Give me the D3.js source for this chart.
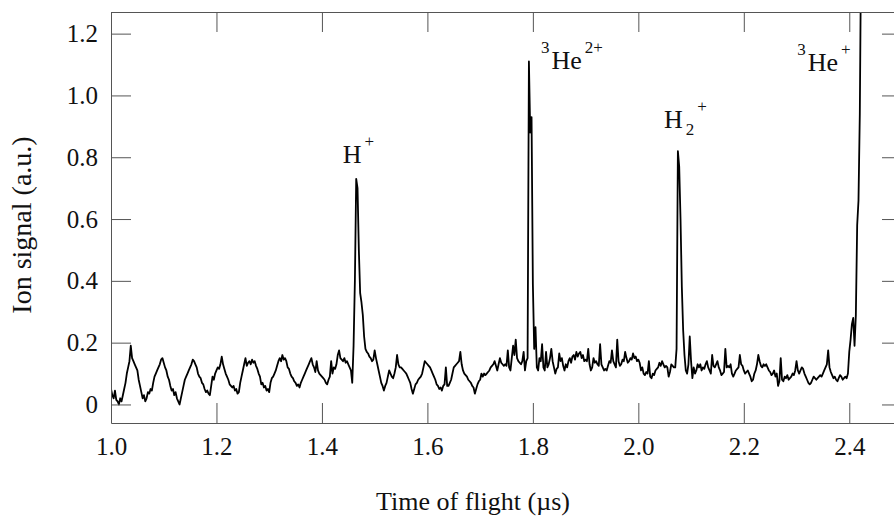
<!DOCTYPE html>
<html>
<head>
<meta charset="utf-8">
<script src="https://cdn.jsdelivr.net/npm/d3@7"></script>
<style>
  html, body { margin: 0; padding: 0; background: #fff; overflow: hidden; }
  svg { display: block; font-family: "Liberation Serif", "Times New Roman", serif; }
</style>
</head>
<body>
<svg id="chart" width="894" height="516"></svg>
<script>
// ---- data ---------------------------------------------------------------------
// ion signal, one sample every 2.5 ns starting at 1.000 us
const tofStart = 1.0;
const tofStep  = 0.0025;
const signal = [
  0.05, 0.03, 0.02, 0.045, 0.015, 0.01, 0.00, 0.02, 0.01, 0.03, 0.05, 0.07, 0.10, 0.12, 0.14, 0.19, 0.15, 0.14, 0.13, 0.12,
  0.11, 0.08, 0.06, 0.04, 0.02, 0.03, 0.01, 0.02, 0.04, 0.035, 0.05, 0.045, 0.07, 0.09, 0.10, 0.11, 0.12, 0.13, 0.145, 0.15,
  0.135, 0.12, 0.11, 0.09, 0.08, 0.06, 0.045, 0.05, 0.03, 0.04, 0.02, 0.01, 0.00, 0.02, 0.04, 0.06, 0.08, 0.09, 0.10, 0.11,
  0.12, 0.13, 0.145, 0.14, 0.13, 0.12, 0.10, 0.09, 0.085, 0.07, 0.065, 0.05, 0.04, 0.045, 0.035, 0.03, 0.06, 0.09, 0.08, 0.10,
  0.11, 0.12, 0.115, 0.13, 0.155, 0.13, 0.115, 0.10, 0.09, 0.08, 0.065, 0.06, 0.055, 0.06, 0.045, 0.05, 0.035, 0.04, 0.07, 0.09,
  0.11, 0.13, 0.15, 0.125, 0.135, 0.14, 0.13, 0.145, 0.135, 0.14, 0.125, 0.115, 0.10, 0.09, 0.065, 0.07, 0.055, 0.06, 0.045, 0.05,
  0.04, 0.07, 0.085, 0.09, 0.10, 0.11, 0.125, 0.14, 0.15, 0.14, 0.16, 0.145, 0.15, 0.14, 0.12, 0.115, 0.10, 0.09, 0.085, 0.075,
  0.07, 0.06, 0.065, 0.055, 0.07, 0.08, 0.09, 0.10, 0.11, 0.12, 0.13, 0.14, 0.15, 0.13, 0.12, 0.105, 0.14, 0.11, 0.10, 0.095,
  0.09, 0.085, 0.08, 0.07, 0.065, 0.08, 0.09, 0.14, 0.10, 0.12, 0.115, 0.13, 0.16, 0.175, 0.15, 0.145, 0.14, 0.15, 0.135, 0.14,
  0.13, 0.12, 0.11, 0.07, 0.19, 0.40, 0.73, 0.70, 0.50, 0.36, 0.33, 0.29, 0.22, 0.18, 0.17, 0.165, 0.155, 0.15, 0.14, 0.145,
  0.175, 0.15, 0.13, 0.11, 0.09, 0.07, 0.06, 0.045, 0.06, 0.07, 0.09, 0.11, 0.10, 0.09, 0.085, 0.10, 0.12, 0.16, 0.13, 0.12,
  0.12, 0.115, 0.11, 0.105, 0.10, 0.09, 0.08, 0.07, 0.05, 0.035, 0.05, 0.065, 0.07, 0.08, 0.085, 0.09, 0.10, 0.12, 0.14, 0.135,
  0.13, 0.125, 0.12, 0.11, 0.10, 0.09, 0.08, 0.065, 0.06, 0.05, 0.055, 0.045, 0.06, 0.065, 0.12, 0.06, 0.06, 0.07, 0.08, 0.10,
  0.12, 0.125, 0.13, 0.135, 0.14, 0.17, 0.13, 0.11, 0.10, 0.095, 0.09, 0.08, 0.075, 0.07, 0.06, 0.055, 0.035, 0.05, 0.065, 0.075,
  0.08, 0.10, 0.09, 0.10, 0.095, 0.10, 0.105, 0.11, 0.12, 0.125, 0.13, 0.14, 0.125, 0.11, 0.13, 0.15, 0.135, 0.13, 0.125, 0.13,
  0.125, 0.175, 0.12, 0.11, 0.15, 0.19, 0.16, 0.21, 0.15, 0.14, 0.135, 0.13, 0.14, 0.17, 0.11, 0.14, 0.15, 1.11, 0.88, 0.93,
  0.39, 0.18, 0.25, 0.12, 0.11, 0.15, 0.14, 0.195, 0.12, 0.11, 0.17, 0.12, 0.13, 0.15, 0.18, 0.14, 0.12, 0.10, 0.115, 0.12,
  0.165, 0.14, 0.15, 0.125, 0.11, 0.13, 0.12, 0.14, 0.15, 0.135, 0.155, 0.16, 0.145, 0.17, 0.155, 0.165, 0.17, 0.15, 0.16, 0.14,
  0.145, 0.14, 0.18, 0.13, 0.11, 0.12, 0.15, 0.135, 0.14, 0.13, 0.125, 0.195, 0.13, 0.12, 0.11, 0.115, 0.11, 0.125, 0.14, 0.135,
  0.175, 0.14, 0.13, 0.12, 0.21, 0.14, 0.125, 0.13, 0.145, 0.14, 0.17, 0.15, 0.135, 0.14, 0.15, 0.145, 0.165, 0.15, 0.155, 0.14,
  0.145, 0.135, 0.11, 0.12, 0.10, 0.095, 0.105, 0.10, 0.14, 0.09, 0.085, 0.10, 0.095, 0.11, 0.115, 0.12, 0.135, 0.125, 0.14, 0.13,
  0.12, 0.125, 0.12, 0.09, 0.105, 0.13, 0.125, 0.12, 0.12, 0.18, 0.82, 0.77, 0.60, 0.38, 0.24, 0.16, 0.11, 0.10, 0.13, 0.22,
  0.14, 0.085, 0.12, 0.10, 0.11, 0.13, 0.12, 0.13, 0.11, 0.12, 0.115, 0.13, 0.14, 0.12, 0.11, 0.10, 0.16, 0.125, 0.12, 0.13,
  0.14, 0.12, 0.11, 0.095, 0.10, 0.105, 0.18, 0.12, 0.125, 0.12, 0.13, 0.10, 0.09, 0.10, 0.11, 0.115, 0.12, 0.16, 0.13, 0.125,
  0.11, 0.10, 0.105, 0.11, 0.10, 0.09, 0.075, 0.08, 0.10, 0.11, 0.13, 0.16, 0.14, 0.125, 0.12, 0.13, 0.125, 0.13, 0.12, 0.11,
  0.105, 0.095, 0.10, 0.11, 0.09, 0.10, 0.06, 0.075, 0.15, 0.08, 0.075, 0.09, 0.085, 0.095, 0.08, 0.085, 0.09, 0.10, 0.095, 0.11,
  0.14, 0.11, 0.10, 0.11, 0.12, 0.115, 0.10, 0.09, 0.08, 0.07, 0.065, 0.07, 0.08, 0.09, 0.085, 0.08, 0.085, 0.09, 0.095, 0.09,
  0.10, 0.11, 0.12, 0.13, 0.175, 0.12, 0.105, 0.095, 0.085, 0.09, 0.08, 0.075, 0.085, 0.095, 0.09, 0.08, 0.085, 0.09, 0.085, 0.10,
  0.17, 0.21, 0.26, 0.28, 0.19, 0.29, 0.58, 0.66, 0.94, 1.5
];

const xTicks      = [1.0, 1.2, 1.4, 1.6, 1.8, 2.0, 2.2, 2.4];
const xTickLabels = ['1.0', '1.2', '1.4', '1.6', '1.8', '2.0', '2.2', '2.4'];
const yTicks      = [0, 0.2, 0.4, 0.6, 0.8, 1.0, 1.2];
const yTickLabels = ['0', '0.2', '0.4', '0.6', '0.8', '1.0', '1.2'];

// peak assignments: text pieces as [text, 'base' | 'sup' | 'sub']
const peakNames = ['H+', '3He2+', 'H2+', '3He+'];
const peakTof   = [1.466, 1.7925, 2.075, 2.4225];
const peakParts = [
  [['H', 'base'], ['+', 'sup']],
  [['3', 'sup'], ['He', 'base'], ['2+', 'sup']],
  [['H', 'base'], ['2', 'sub'], ['+', 'sup']],
  [['3', 'sup'], ['He', 'base'], ['+', 'sup']]
];

const xTitle = 'Time of flight (\u00b5s)';
const yTitle = 'Ion signal (a.u.)';

// ---- layout -------------------------------------------------------------------
const svg = d3.select('#chart');
const L = 111, R = 902, T = 12, B = 423;
const AXIS = '#555';

const x = d3.scaleLinear().domain([1.0, 2.5]).range([L, R]);
const y = d3.scaleLinear().domain([-0.06, 1.27]).range([B, T]);

svg.append('defs').append('clipPath').attr('id', 'plot-clip')
  .append('rect').attr('x', L).attr('y', T).attr('width', R - L).attr('height', B - T);

// ---- trace --------------------------------------------------------------------
const line = d3.line()
  .x((d, i) => x(tofStart + i * tofStep))
  .y(d => y(d));

svg.append('path')
  .datum(signal)
  .attr('clip-path', 'url(#plot-clip)')
  .attr('fill', 'none')
  .attr('stroke', '#000')
  .attr('stroke-width', 1.8)
  .attr('stroke-linejoin', 'round')
  .attr('d', line);

// ---- frame + inward ticks -------------------------------------------------------
function styleAxis(g) {
  g.selectAll('path.domain').attr('stroke', AXIS);
  g.selectAll('.tick line').attr('stroke', AXIS);
  g.selectAll('.tick text')
    .attr('fill', '#111')
    .style('font-family', '"Liberation Serif", "Times New Roman", serif')
    .style('font-size', '25px');
}

svg.append('g').attr('transform', `translate(0,${B})`)
  .call(d3.axisBottom(x).tickValues(xTicks).tickSize(-20).tickSizeOuter(0).tickPadding(14)
    .tickFormat((d, i) => xTickLabels[i]))
  .call(styleAxis);

svg.append('g').attr('transform', `translate(0,${T})`)
  .call(d3.axisTop(x).tickValues(xTicks).tickSize(-20).tickSizeOuter(0).tickFormat(''))
  .call(styleAxis);

svg.append('g').attr('transform', `translate(${L},0)`)
  .call(d3.axisLeft(y).tickValues(yTicks).tickSize(-20).tickSizeOuter(0).tickPadding(13)
    .tickFormat((d, i) => yTickLabels[i]))
  .call(styleAxis);

svg.append('g').attr('transform', `translate(${R},0)`)
  .call(d3.axisRight(y).tickValues(yTicks).tickSize(-20).tickSizeOuter(0).tickFormat(''))
  .call(styleAxis);

// ---- axis titles ----------------------------------------------------------------
svg.append('text')
  .attr('x', 473).attr('y', 510)
  .attr('text-anchor', 'middle')
  .style('font-size', '26px').attr('fill', '#111')
  .text(xTitle);

svg.append('text')
  .attr('transform', 'translate(31,225) rotate(-90)')
  .attr('text-anchor', 'middle')
  .style('font-size', '28px').attr('fill', '#111')
  .text(yTitle);

// ---- peak labels ----------------------------------------------------------------
// dx: offset of the label start from the peak, base: baseline of the main letters
const labelLayout = [
  { dx: -14, base: 163 },
  { dx: 12,  base: 69 },
  { dx: -14, base: 128 },
  { dx: -64, base: 71 }
];
const SHIFT = { base: 0, sup: -16, sub: 7 };

peakParts.forEach((parts, k) => {
  const lay = labelLayout[k];
  const t = svg.append('text')
    .attr('class', 'peak-label')
    .attr('data-name', peakNames[k])
    .attr('x', x(peakTof[k]) + lay.dx)
    .attr('y', lay.base)
    .attr('fill', '#111');
  let cur = 0;
  parts.forEach(([txt, role], i) => {
    const shift = SHIFT[role];
    t.append('tspan')
      .attr('dx', i === 0 ? 0 : (role === 'base' ? 2 : 3))
      .attr('dy', shift - cur)
      .style('font-size', role === 'base' ? '26px' : '17px')
      .text(txt);
    cur = shift;
  });
});
</script>
</body>
</html>
